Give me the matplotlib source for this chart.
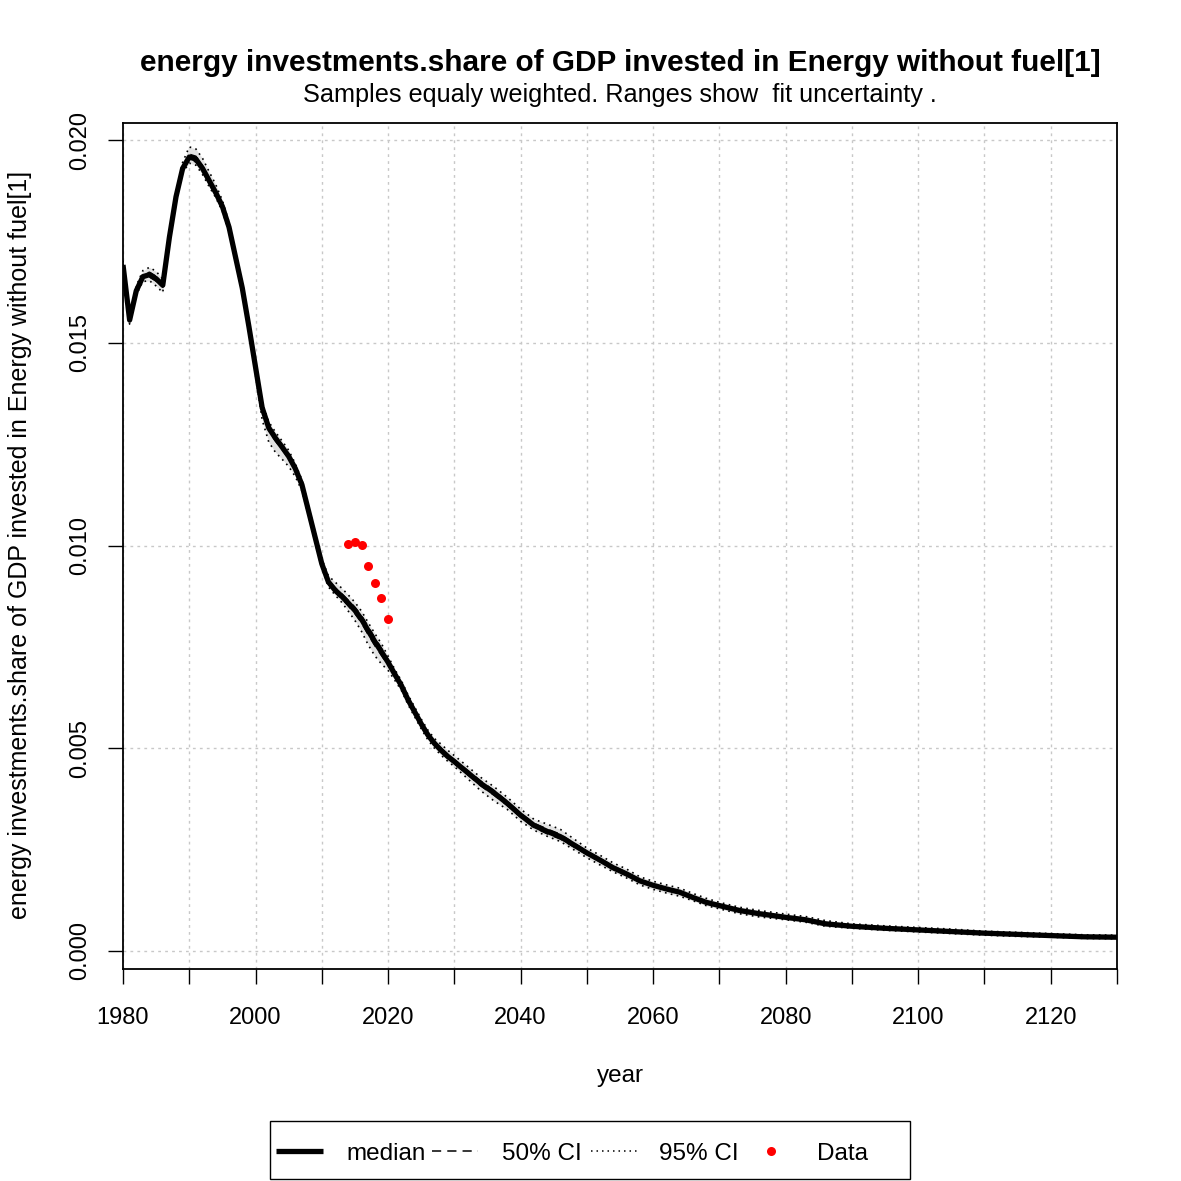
import numpy as np
import matplotlib
matplotlib.use("Agg")
import matplotlib.pyplot as plt
from matplotlib.lines import Line2D
from matplotlib.patches import Rectangle

plt.rcParams['font.family'] = ['Liberation Sans', 'DejaVu Sans']

years = [1980, 1981, 1982, 1983, 1984, 1985, 1986, 1987, 1988, 1989,
         1990, 1991, 1992, 1993, 1994, 1995, 1996, 1997, 1998, 1999,
         2000, 2001, 2002, 2003, 2004, 2005, 2006, 2007, 2008, 2009,
         2010, 2011, 2012, 2013, 2014, 2015, 2016, 2017, 2018, 2019,
         2020, 2021, 2022, 2023, 2024, 2025, 2026, 2027, 2028, 2029,
         2030, 2032, 2034, 2036, 2038, 2040, 2042, 2044, 2046, 2048,
         2050, 2052, 2054, 2056, 2058, 2060, 2062, 2064, 2066, 2068,
         2070, 2073, 2076, 2080, 2083, 2086, 2090, 2095, 2100, 2105,
         2110, 2115, 2120, 2125, 2130]

median = [0.01692, 0.01556, 0.01628, 0.01663, 0.01668, 0.01658, 0.01642, 0.01760, 0.01860, 0.01930,
          0.01958, 0.01953, 0.01930, 0.01900, 0.01870, 0.01836, 0.01785, 0.01710, 0.01635, 0.01540,
          0.01440, 0.01340, 0.01290, 0.01265, 0.01243, 0.01220, 0.01190, 0.01150, 0.01085, 0.01020,
          0.00955, 0.00910, 0.00890, 0.00875, 0.00858, 0.00840, 0.00818, 0.00790, 0.00763, 0.00738,
          0.00712, 0.00683, 0.00655, 0.00620, 0.00590, 0.00560, 0.00533, 0.00512, 0.00495, 0.00480,
          0.00467, 0.00440, 0.00413, 0.00390, 0.00364, 0.00335, 0.00310, 0.00295, 0.00282, 0.00262,
          0.00242, 0.00224, 0.00205, 0.00190, 0.00173, 0.00162, 0.00153, 0.00145, 0.00132, 0.00120,
          0.00112, 0.00100, 0.00092, 0.00083, 0.00077, 0.00067, 0.00061, 0.00056, 0.00052, 0.00048,
          0.00044, 0.00041, 0.00038, 0.00035, 0.00034]

# 95% CI upper / lower offsets from median
off95_hi = [0.00010, 0.00010, 0.00012, 0.00015, 0.00018, 0.00018, 0.00015, 0.00010, 0.00010, 0.00015,
            0.00025, 0.00025, 0.00025, 0.00022, 0.00020, 0.00015, 0.00012, 0.00012, 0.00012, 0.00012,
            0.00012, 0.00012, 0.00015, 0.00015, 0.00015, 0.00015, 0.00012, 0.00012, 0.00012, 0.00012,
            0.00012, 0.00015, 0.00020, 0.00020, 0.00020, 0.00020, 0.00020, 0.00020, 0.00020, 0.00020,
            0.00015, 0.00012, 0.00012, 0.00012, 0.00012, 0.00012, 0.00012, 0.00012, 0.00015, 0.00015,
            0.00015, 0.00015, 0.00015, 0.00015, 0.00015, 0.00015, 0.00015, 0.00018, 0.00018, 0.00015,
            0.00012, 0.00012, 0.00012, 0.00012, 0.00010, 0.00010, 0.00010, 0.00010, 0.00010, 0.00010,
            0.00008, 0.00008, 0.00008, 0.00008, 0.00008, 0.00008, 0.00006, 0.00006, 0.00006, 0.00006,
            0.00005, 0.00005, 0.00005, 0.00005, 0.00005]
off95_lo = [0.00010, 0.00010, 0.00010, 0.00012, 0.00015, 0.00018, 0.00018, 0.00010, 0.00010, 0.00010,
            0.00015, 0.00015, 0.00015, 0.00015, 0.00012, 0.00012, 0.00012, 0.00012, 0.00012, 0.00012,
            0.00020, 0.00030, 0.00035, 0.00035, 0.00030, 0.00025, 0.00020, 0.00015, 0.00012, 0.00012,
            0.00012, 0.00012, 0.00012, 0.00015, 0.00020, 0.00025, 0.00030, 0.00035, 0.00035, 0.00030,
            0.00020, 0.00015, 0.00012, 0.00012, 0.00012, 0.00012, 0.00012, 0.00012, 0.00012, 0.00012,
            0.00012, 0.00015, 0.00018, 0.00020, 0.00015, 0.00015, 0.00012, 0.00012, 0.00012, 0.00012,
            0.00012, 0.00012, 0.00010, 0.00010, 0.00010, 0.00010, 0.00010, 0.00010, 0.00008, 0.00008,
            0.00008, 0.00008, 0.00008, 0.00006, 0.00006, 0.00006, 0.00005, 0.00005, 0.00005, 0.00005,
            0.00005, 0.00005, 0.00004, 0.00004, 0.00004]
# 50% CI half-width
off50 = [0.00003, 0.00003, 0.00004, 0.00005, 0.00006, 0.00006, 0.00005, 0.00003, 0.00003, 0.00004,
         0.00007, 0.00007, 0.00006, 0.00005, 0.00005, 0.00004, 0.00004, 0.00004, 0.00004, 0.00004,
         0.00005, 0.00006, 0.00007, 0.00007, 0.00006, 0.00006, 0.00005, 0.00004, 0.00004, 0.00004,
         0.00004, 0.00005, 0.00006, 0.00006, 0.00007, 0.00008, 0.00009, 0.00010, 0.00010, 0.00009,
         0.00007, 0.00005, 0.00004, 0.00004, 0.00004, 0.00004, 0.00004, 0.00004, 0.00005, 0.00005,
         0.00005, 0.00005, 0.00006, 0.00006, 0.00005, 0.00005, 0.00005, 0.00006, 0.00006, 0.00005,
         0.00004, 0.00004, 0.00004, 0.00004, 0.00003, 0.00003, 0.00003, 0.00003, 0.00003, 0.00003,
         0.00003, 0.00003, 0.00003, 0.00003, 0.00003, 0.00003, 0.00002, 0.00002, 0.00002, 0.00002,
         0.00002, 0.00002, 0.00002, 0.00002, 0.00002]

data_years = [2014, 2015, 2016, 2017, 2018, 2019, 2020]
data_values = [0.01004, 0.01009, 0.01001, 0.00949, 0.00908, 0.00870, 0.00819]

title = "energy investments.share of GDP invested in Energy without fuel[1]"
subtitle = "Samples equaly weighted. Ranges show  fit uncertainty ."
xlabel = "year"
ylabel = "energy investments.share of GDP invested in Energy without fuel[1]"
xticks_major = [1980, 2000, 2020, 2040, 2060, 2080, 2100, 2120]
xticks_all = list(range(1980, 2131, 10))
yticks = [0.000, 0.005, 0.010, 0.015, 0.020]
ytick_labels = ["0.000", "0.005", "0.010", "0.015", "0.020"]
legend_labels = ["median", "50% CI", "95% CI", "Data"]

yr = np.array(years, dtype=float)
med = np.array(median)
hi95 = med + np.array(off95_hi)
lo95 = med - np.array(off95_lo)
hi50 = med + np.array(off50)
lo50 = med - np.array(off50)

W = 1181
fig = plt.figure(figsize=(W / 100, W / 100), dpi=100)
ax = fig.add_axes([123 / W, 1 - 969 / W, (1117 - 123) / W, (969 - 123) / W])

DOT = (0, (1, 2.6))
DASH = (0, (6, 4))

ax.fill_between(yr, lo95, hi95, color='#e3e3e3', lw=0, zorder=1)
ax.plot(yr, hi95, color='black', lw=1.2, ls=DOT, zorder=3)
ax.plot(yr, lo95, color='black', lw=1.2, ls=DOT, zorder=3)
ax.plot(yr, hi50, color='black', lw=1.1, ls=DASH, zorder=3)
ax.plot(yr, lo50, color='black', lw=1.1, ls=DASH, zorder=3)
ax.plot(yr, med, color='black', lw=3.8, solid_capstyle='butt', solid_joinstyle='round', zorder=4)
ax.plot(data_years, data_values, 'o', color='red', ms=6.5, mec='none', zorder=5)

ax.set_xlim(1980, 2130)
ax.set_ylim(-0.000444, 0.02042)

for x in xticks_all:
    ax.axvline(x, color='#c8c8c8', lw=1.0, ls=(0, (2, 3)), zorder=0)
for y in yticks:
    ax.axhline(y, color='#c8c8c8', lw=1.0, ls=(0, (2, 3)), zorder=0)

ax.set_xticks(xticks_all)
ax.set_xticklabels([str(x) if x in xticks_major else "" for x in xticks_all])
ax.set_yticks(yticks)
ax.set_yticklabels(ytick_labels, rotation=90, va='center')
ax.tick_params(axis='both', direction='out', length=11, width=1.0, labelsize=17)
ax.tick_params(axis='x', pad=16)
ax.tick_params(axis='y', pad=12)
for s in ax.spines.values():
    s.set_linewidth(1.3)

fig.text(620 / W, 1 - 63 / W, title, ha='center', va='center', fontsize=21.4, fontweight='bold')
fig.text(620 / W, 1 - 95 / W, subtitle, ha='center', va='center', fontsize=18.2)
fig.text(620 / W, 1 - 1076 / W, xlabel, ha='center', va='center', fontsize=17.5)
fig.text(20 / W, 1 - 545 / W, ylabel, ha='center', va='center', fontsize=18, rotation=90)

# legend drawn in figure pixel coordinates (R-style horizontal legend)
def fx(px):
    return px / W

def fy(py):
    return 1 - py / W

fig.patches.append(Rectangle((fx(270), fy(1179)), fx(910) - fx(270), fy(1121) - fy(1179),
                             transform=fig.transFigure, fill=False, edgecolor='black', lw=1.0))
ly = fy(1151)
fig.lines.append(Line2D([fx(276), fx(323)], [ly, ly], transform=fig.transFigure,
                        color='black', lw=3.8, solid_capstyle='butt'))
fig.lines.append(Line2D([fx(432), fx(478)], [ly, ly], transform=fig.transFigure,
                        color='black', lw=1.1, ls=DASH))
fig.lines.append(Line2D([fx(591), fx(637)], [ly, ly], transform=fig.transFigure,
                        color='black', lw=1.1, ls=DOT))
fig.lines.append(Line2D([fx(771)], [ly], transform=fig.transFigure,
                        color='red', marker='o', ls='none', ms=6.5, mec='none'))
for lab, px in zip(legend_labels, [346, 502, 659, 817]):
    fig.text(fx(px), ly, lab, ha='left', va='center_baseline', fontsize=17.5)

fig.savefig("out.png", dpi=100)
